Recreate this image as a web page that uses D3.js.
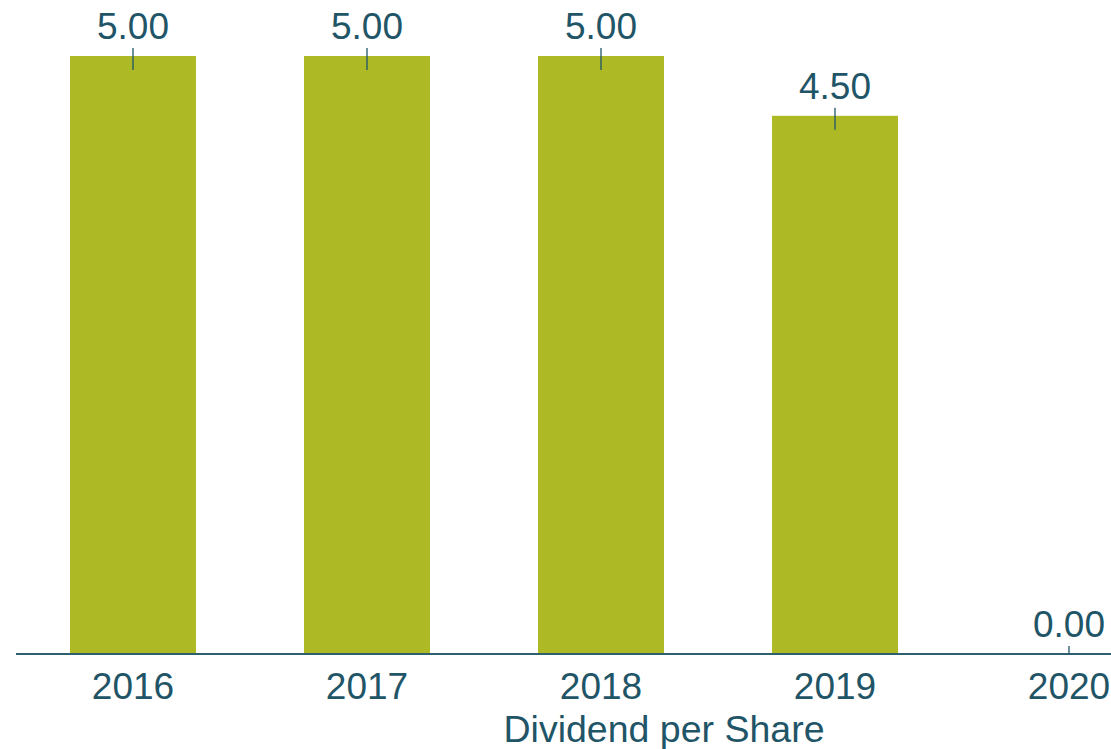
<!DOCTYPE html>
<html>
<head>
<meta charset="utf-8">
<script src="https://cdn.jsdelivr.net/npm/d3@7"></script>
<style>
  body { margin: 0; background: #fff; }
  text { font-family: "Liberation Sans", Arial, sans-serif; fill: #1f5567; }
</style>
</head>
<body>
<div id="chart"></div>
<script>
// Data
const years = ["2016", "2017", "2018", "2019", "2020"];
const dividends = [5.00, 5.00, 5.00, 4.50, 0.00];
const axisTitle = "Dividend per Share";

const width = 1111, height = 749;
const baseY = 654, topY = 56;

const svg = d3.select("#chart").append("svg")
  .attr("width", width)
  .attr("height", height);

// Scales
const x = d3.scaleBand()
  .domain(years)
  .range([16, 1186])
  .paddingInner(0.4615)
  .paddingOuter(0.2308);

const y = d3.scaleLinear()
  .domain([0, 5])
  .range([baseY, topY]);

const rows = years.map((yr, i) => ({year: yr, value: dividends[i]}));

// Bars
svg.selectAll(".bar")
  .data(rows)
  .enter().append("rect")
  .attr("class", "bar")
  .attr("x", d => x(d.year))
  .attr("y", d => y(d.value))
  .attr("width", x.bandwidth())
  .attr("height", d => baseY - y(d.value))
  .attr("fill", "#adba26");

// Axis line
svg.append("line")
  .attr("x1", 16).attr("x2", width)
  .attr("y1", baseY).attr("y2", baseY)
  .attr("stroke", "#2e5f6e")
  .attr("stroke-width", 2);

// Small marker ticks
svg.selectAll(".mark")
  .data(rows)
  .enter().append("line")
  .attr("x1", d => x(d.year) + x.bandwidth() / 2)
  .attr("x2", d => x(d.year) + x.bandwidth() / 2)
  .attr("y1", d => y(d.value) - 8)
  .attr("y2", d => Math.min(y(d.value) + 14, baseY))
  .attr("stroke", "#1f5567")
  .attr("stroke-width", 1.3);

// Value labels
svg.selectAll(".val")
  .data(rows)
  .enter().append("text")
  .attr("x", d => x(d.year) + x.bandwidth() / 2)
  .attr("y", d => y(d.value) - 17)
  .attr("text-anchor", "middle")
  .style("font-size", "37px")
  .text(d => d.value.toFixed(2));

// Year labels
svg.selectAll(".yr")
  .data(rows)
  .enter().append("text")
  .attr("x", d => x(d.year) + x.bandwidth() / 2)
  .attr("y", 699)
  .attr("text-anchor", "middle")
  .style("font-size", "37px")
  .text(d => d.year);

// Axis title
svg.append("text")
  .attr("x", 664)
  .attr("y", 742)
  .attr("text-anchor", "middle")
  .style("font-size", "37.5px")
  .text(axisTitle);
</script>
</body>
</html>
